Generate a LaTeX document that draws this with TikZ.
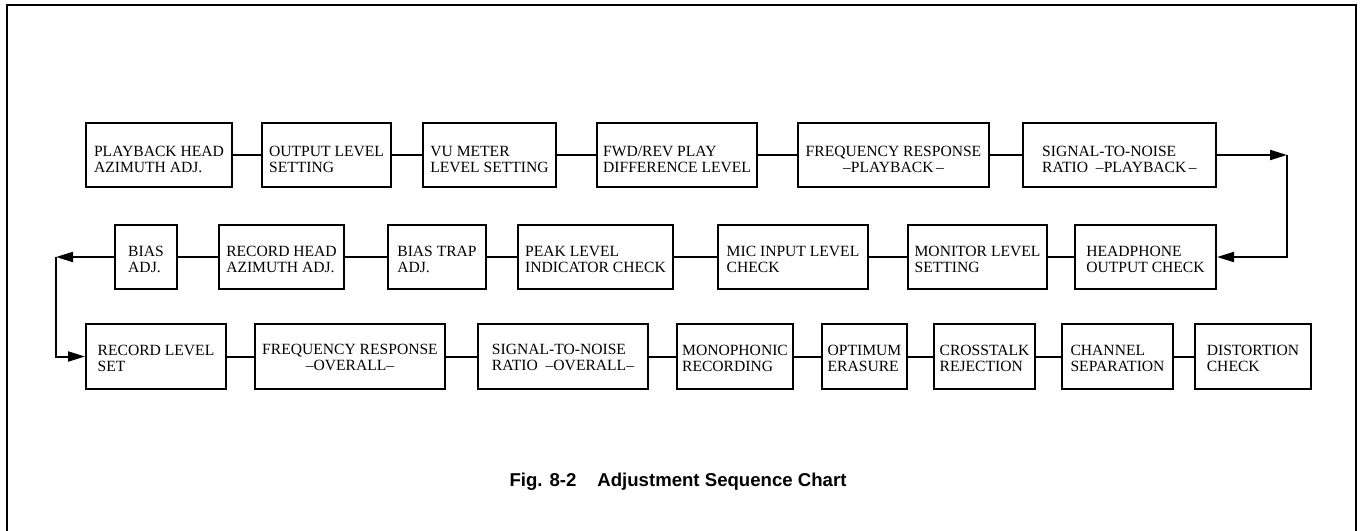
\documentclass[tikz,border=0pt]{standalone}
\usepackage{fontspec}
\setmainfont{Liberation Serif}
\newfontfamily\capfont{Liberation Sans}
\usetikzlibrary{arrows.meta}
\newcommand\tA{\rule{0pt}{9.4pt}}
\newcommand\tB{\rule{0pt}{7.8pt}}
\newcommand\tC{\rule{0pt}{6.6pt}}
\newcommand\bx[7][]{\node[box,#1,minimum width={(#4-#3)*0.5pt},minimum height={(#6-#5)*0.5pt}] (#2) at ({(#3+#4)/2},{(#5+#6)/2}) {#7};}
\begin{document}
\begin{tikzpicture}[x=0.5pt,y=-0.5pt,
  box/.style={draw,line width=1pt,inner sep=0pt,align=left,font=\fontsize{7.8}{8}\selectfont},
  conn/.style={line width=1pt},
  arr/.style={line width=1pt,-{Triangle[length=8.5pt,width=5pt]}},
  frame/.style={line width=1pt}]
\useasboundingbox (0,0) rectangle (1363,530);
\draw[frame] (7,532) -- (7,5) -- (1356,5) -- (1356,532);
% row 1
\bx{a1}{86}{232}{123}{187}{\tA PLAYBACK HEAD\\AZIMUTH ADJ.}
\bx{a2}{262}{391}{123}{187}{\tA OUTPUT LEVEL\\SETTING}
\bx{a3}{423}{556}{123}{187}{\tA VU METER\\LEVEL SETTING}
\bx{a4}{597}{757}{123}{187}{\tA FWD/REV PLAY\\DIFFERENCE LEVEL}
\bx[align=center]{a5}{798}{989}{123}{187}{\tA FREQUENCY RESPONSE\\–PLAYBACK\,–}
\bx{a6}{1023}{1216}{123}{187}{\tA SIGNAL-TO-NOISE\\RATIO\ \ –PLAYBACK\,–}
% row 2
\bx{b1}{1075}{1216}{225}{289}{\tB HEADPHONE\\OUTPUT CHECK}
\bx{b2}{908}{1047}{225}{289}{\tB MONITOR LEVEL\\SETTING}
\bx{b3}{718}{868}{225}{289}{\tB MIC INPUT LEVEL\\CHECK}
\bx{b4}{518}{673}{225}{289}{\tB PEAK LEVEL\\INDICATOR CHECK}
\bx{b5}{388}{486}{225}{289}{\tB BIAS TRAP\\ADJ.}
\bx{b6}{219}{344}{225}{289}{\tB RECORD HEAD\\AZIMUTH ADJ.}
\bx{b7}{115}{177}{225}{289}{\tB BIAS\\ADJ.}
% row 3
\bx{c1}{86}{226}{324}{389}{\tC RECORD LEVEL\\SET}
\bx[align=center]{c2}{255}{445}{324}{389}{\tC FREQUENCY RESPONSE\\–OVERALL–}
\bx{c3}{478}{648}{324}{389}{\tC SIGNAL-TO-NOISE\\RATIO\ \ –OVERALL–}
\bx{c4}{677}{793}{324}{389}{\tC MONOPHONIC\\RECORDING}
\bx{c5}{822}{907}{324}{389}{\tC OPTIMUM\\ERASURE}
\bx{c6}{934}{1035}{324}{389}{\tC CROSSTALK\\REJECTION}
\bx{c7}{1062}{1173}{324}{389}{\tC CHANNEL\\SEPARATION}
\bx{c8}{1195}{1311}{324}{389}{\tC DISTORTION\\CHECK}
% connectors
\draw[conn] (a1) -- (a2);
\draw[conn] (a2) -- (a3);
\draw[conn] (a3) -- (a4);
\draw[conn] (a4) -- (a5);
\draw[conn] (a5) -- (a6);
\coordinate (cR) at (1287,155);
\draw[arr] (a6) -- (cR);
\draw[arr] (cR) |- (b1);
\draw[conn] (b1) -- (b2);
\draw[conn] (b2) -- (b3);
\draw[conn] (b3) -- (b4);
\draw[conn] (b4) -- (b5);
\draw[conn] (b5) -- (b6);
\draw[conn] (b6) -- (b7);
\coordinate (cL) at (56,257);
\draw[arr] (b7) -- (cL);
\draw[arr] (cL) |- (c1);
\draw[conn] (c1) -- (c2);
\draw[conn] (c2) -- (c3);
\draw[conn] (c3) -- (c4);
\draw[conn] (c4) -- (c5);
\draw[conn] (c5) -- (c6);
\draw[conn] (c6) -- (c7);
\draw[conn] (c7) -- (c8);
% caption
\node[font=\capfont\bfseries\fontsize{9.3}{10}\selectfont,anchor=base,inner sep=0pt] (cap) at (678,486) {Fig. 8-2\hspace{10.5pt}Adjustment Sequence Chart};
\end{tikzpicture}
\end{document}
